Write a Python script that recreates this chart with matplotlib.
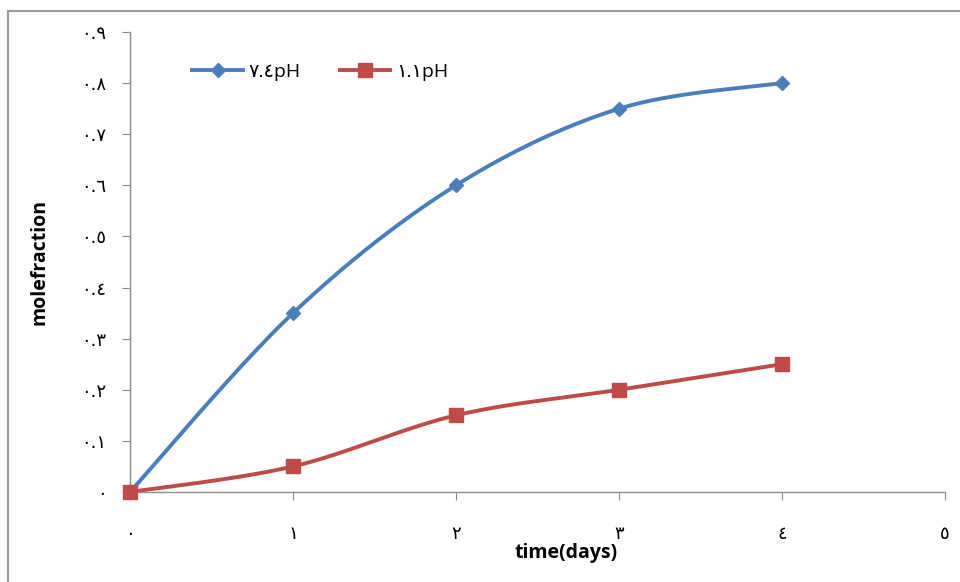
import numpy as np
import matplotlib.pyplot as plt
from matplotlib.lines import Line2D

days = [0, 1, 2, 3, 4]
ph74 = [0.0, 0.35, 0.60, 0.75, 0.80]
ph11 = [0.0, 0.05, 0.15, 0.20, 0.25]
series_names = ["٧.٤pH", "١.١pH"]
x_ticklabels = ["٠", "١", "٢", "٣", "٤", "٥"]
y_ticks = [0, 0.1, 0.2, 0.3, 0.4, 0.5, 0.6, 0.7, 0.8, 0.9]
y_ticklabels = ["٠", "٠.١", "٠.٢", "٠.٣", "٠.٤", "٠.٥", "٠.٦", "٠.٧", "٠.٨", "٠.٩"]

BLUE = "#4a7ebb"
RED = "#be4b48"
GRAY = "#8c8c8c"


def smooth(x, y, n=40):
    # catmull-rom curve through the points (end points doubled, like excel)
    x = np.asarray(x, float)
    y = np.asarray(y, float)
    px = np.concatenate([[x[0]], x, [x[-1]]])
    py = np.concatenate([[y[0]], y, [y[-1]]])
    tx = (px[2:] - px[:-2]) / 2
    ty = (py[2:] - py[:-2]) / 2
    t = np.linspace(0, 1, n)
    h00 = 2 * t**3 - 3 * t**2 + 1
    h10 = t**3 - 2 * t**2 + t
    h01 = -2 * t**3 + 3 * t**2
    h11 = t**3 - t**2
    xs, ys = [], []
    for i in range(len(x) - 1):
        xs.append(h00 * x[i] + h10 * tx[i] + h01 * x[i + 1] + h11 * tx[i + 1])
        ys.append(h00 * y[i] + h10 * ty[i] + h01 * y[i + 1] + h11 * ty[i + 1])
    return np.concatenate(xs), np.concatenate(ys)


fig = plt.figure(figsize=(9.6, 5.82), dpi=100)
ax = fig.add_axes([130 / 960, 1 - 492 / 582, (945 - 130) / 960, (492 - 32) / 582])

for vals, color, mk, ms in [(ph74, BLUE, "D", 7.5), (ph11, RED, "s", 10)]:
    sx, sy = smooth(days, vals)
    ax.plot(sx, sy, color=color, lw=2.8, solid_capstyle="round", clip_on=False)
    ax.plot(days, vals, ls="none", marker=mk, ms=ms, color=color, clip_on=False, zorder=3)

ax.set_xlim(0, 5)
ax.set_ylim(0, 0.9)
ax.set_xticks(range(6))
ax.set_xticklabels(x_ticklabels, family="DejaVu Sans", fontsize=13)
ax.set_yticks(y_ticks)
ax.set_yticklabels(y_ticklabels, family="DejaVu Sans", fontsize=13)
ax.tick_params(axis="x", direction="out", length=6, color=GRAY, pad=18)
ax.tick_params(axis="y", direction="out", length=6, color=GRAY, pad=11)
for s in ["top", "right"]:
    ax.spines[s].set_visible(False)
for s in ["left", "bottom"]:
    ax.spines[s].set_color(GRAY)
    ax.spines[s].set_linewidth(1.0)

ax.set_xlabel("time(days)", family="Open Sans", fontweight="bold", fontsize=14)
ax.xaxis.set_label_coords((566 - 130) / 815, -0.11)
ax.set_ylabel("molefraction", family="Open Sans", fontweight="bold", fontsize=14)
ax.yaxis.set_label_coords(-(130 - 50) / 815, (492 - 262) / 460)

handles = [
    Line2D([], [], color=BLUE, lw=2.8, marker="D", ms=7.5),
    Line2D([], [], color=RED, lw=2.8, marker="s", ms=10),
]
leg = ax.legend(handles, series_names, ncol=2, frameon=False, loc="center left",
                bbox_to_anchor=(0.055, (492 - 72) / 460), handlelength=2.6, columnspacing=2.0,
                handletextpad=0.3, prop={"family": ["Open Sans", "DejaVu Sans"], "size": 14})

# outer chart border (top and left visible)
fig.add_artist(Line2D([8 / 960, 1], [1 - 11 / 582, 1 - 11 / 582], color="#999999", lw=1.5))
fig.add_artist(Line2D([8 / 960, 8 / 960], [0, 1 - 11 / 582], color="#999999", lw=1.5))

fig.savefig("out.png", dpi=100)
